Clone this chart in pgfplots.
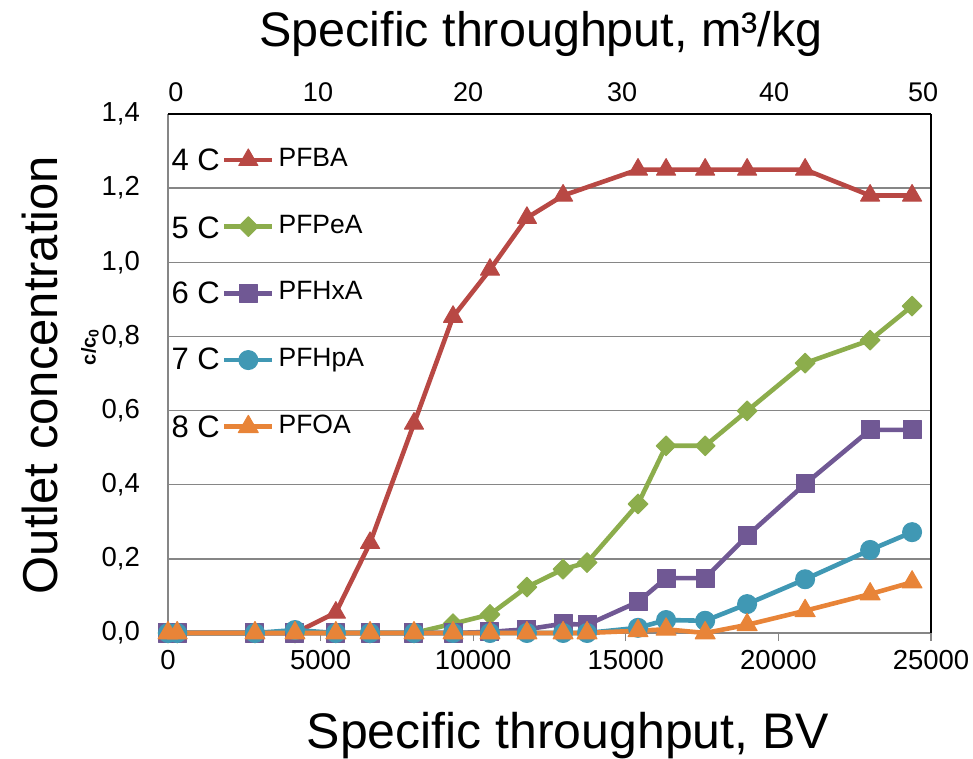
\documentclass[border=0pt]{standalone}
\usepackage{fontspec}
\setmainfont{Liberation Sans}
\usepackage{pgfplots}
\pgfplotsset{compat=1.18}

\definecolor{cBA}{RGB}{184,72,68}
\definecolor{cPeA}{RGB}{140,173,76}
\definecolor{cHxA}{RGB}{112,88,148}
\definecolor{cHpA}{RGB}{64,152,180}
\definecolor{cOA}{RGB}{232,132,56}
\definecolor{gridc}{RGB}{134,134,134}

\newcommand{\fs}[1]{\fontsize{#1}{#1}\selectfont}

\begin{document}
\begin{tikzpicture}
\begin{axis}[
  at={(0,0)}, anchor=south west,
  scale only axis, width=763pt, height=519pt,
  xmin=0, xmax=25000, ymin=0, ymax=1.4,
  clip=false,
  axis x line*=bottom, axis y line*=left,
  axis line style={-, gridc, line width=1.5pt},
  xtick={0,5000,10000,15000,20000,25000},
  ytick={0,0.2,0.4,0.6,0.8,1.0,1.2,1.4},
  scaled x ticks=false,
  tick align=outside, major tick length=8pt,
  xtick style={gridc, line width=1.2pt},
  ytick style={draw=none},
  ymajorgrids, grid style={gridc, line width=1.5pt},
  /pgf/number format/assume math mode=true,
  tick label style={font=\fs{27.5}, inner sep=0pt},
  xticklabel style={/pgf/number format/1000 sep={}, yshift=-9pt},
  yticklabel style={/pgf/number format/.cd, fixed, fixed zerofill, precision=1, use comma, /tikz/.cd, xshift=-20pt},
  legend style={at={(0.0708,0.9355)}, anchor=north west, draw=none, fill=none,
    inner sep=0pt, outer sep=0pt, row sep=41.7pt, column sep=4pt, font=\fs{26.5},
    nodes={inner sep=0pt, text height=19pt, text depth=6pt}},
  legend cell align=left,
  legend image code/.code={\draw[mark repeat=2,mark phase=2] plot coordinates {(0pt,0pt) (24pt,0pt) (48pt,0pt)};},
  every axis plot/.append style={line width=4.6pt, line join=round},
]

% 4 C
\addplot[cBA, mark=triangle*, mark size=11pt, mark options={fill=cBA, line width=1pt}]
  coordinates {(0,0) (300,0) (2850,0) (4160,0) (5500,0.055) (6620,0.243) (8060,0.565)
               (9340,0.853) (10550,0.98) (11760,1.12) (12945,1.18) (15400,1.25) (16320,1.25)
               (17600,1.25) (18975,1.25) (20875,1.25) (23005,1.18) (24380,1.18)};
\addlegendentry{PFBA}

% 5 C
\addplot[cPeA, mark=square*, mark size=7pt, mark options={rotate=45, fill=cPeA, line width=1pt}]
  coordinates {(0,0) (300,0) (2850,0) (4160,0) (5500,0) (6620,0) (8060,0) (9340,0.025)
               (10550,0.05) (11760,0.124) (12945,0.172) (13730,0.19) (15400,0.348) (16320,0.505)
               (17600,0.505) (18975,0.599) (20875,0.728) (23005,0.79) (24380,0.882)};
\addlegendentry{PFPeA}

% 6 C
\addplot[cHxA, mark=square*, mark size=9pt, mark options={fill=cHxA, line width=1pt}]
  coordinates {(0,0) (300,0) (2850,0) (4160,0) (5500,0) (6620,0) (8060,0) (9340,0)
               (10550,0.003) (11760,0.01) (12945,0.025) (13730,0.022) (15400,0.084) (16320,0.148)
               (17600,0.148) (18975,0.262) (20875,0.402) (23005,0.548) (24380,0.548)};
\addlegendentry{PFHxA}

% 7 C
\addplot[cHpA, mark=*, mark size=9.5pt, mark options={fill=cHpA, line width=1pt}]
  coordinates {(0,0) (300,0) (2850,0) (4160,0.008) (5500,0) (6620,0) (8060,0) (9340,0)
               (10550,0) (11760,0) (12945,0) (13730,0) (15400,0.014) (16320,0.035)
               (17600,0.033) (18975,0.078) (20875,0.145) (23005,0.224) (24380,0.272)};
\addlegendentry{PFHpA}

% 8 C
\addplot[cOA, mark=triangle*, mark size=11.5pt, mark options={fill=cOA, line width=1pt}]
  coordinates {(0,0) (300,0) (2850,0) (4160,0) (5500,0) (6620,0) (8060,0) (9340,0)
               (10550,0) (11760,0) (12945,0) (13730,0) (15400,0.006) (16320,0.01)
               (17600,0) (18975,0.022) (20875,0.06) (23005,0.105) (24380,0.137)};
\addlegendentry{PFOA}

\draw[black, line width=2pt] (rel axis cs:1,1) -- (rel axis cs:1,0);
\end{axis}

% top axis: m3/kg
\begin{axis}[
  at={(0,0)}, anchor=south west,
  scale only axis, width=763pt, height=519pt,
  xmin=0, xmax=25000, ymin=0, ymax=1,
  axis x line*=top, axis y line=none,
  x axis line style={-, black, line width=2.5pt},
  scaled x ticks=false,
  xtick={262,4915,9830,14877,19857,24740},
  xticklabels={0,10,20,30,40,50},
  major tick length=0pt,
  xticklabel style={font=\fs{27}, inner sep=0pt, yshift=12pt},
]
\end{axis}

\foreach \t/\y in {4 C/473, 5 C/405, 6 C/340, 7 C/274, 8 C/206}
  \node[anchor=east, inner sep=0pt, font=\fs{31}] at (52pt,\y pt) {\t};

\node[anchor=base, font=\fs{48.5}] at (373pt,586pt) {Specific throughput, m³/kg};
\node[anchor=base, font=\fs{50}] at (400pt,-115pt) {Specific throughput, BV};
\node[anchor=base, rotate=90, font=\fs{49}] at (-110pt,258pt) {Outlet concentration};
\node[rotate=90, font=\bfseries\fs{20}] at (-78pt,286pt) {c/c\textsubscript{0}};

\pgfresetboundingbox
\path[use as bounding box] (-168pt,-126pt) rectangle (805pt,633pt);
\end{tikzpicture}
\end{document}
